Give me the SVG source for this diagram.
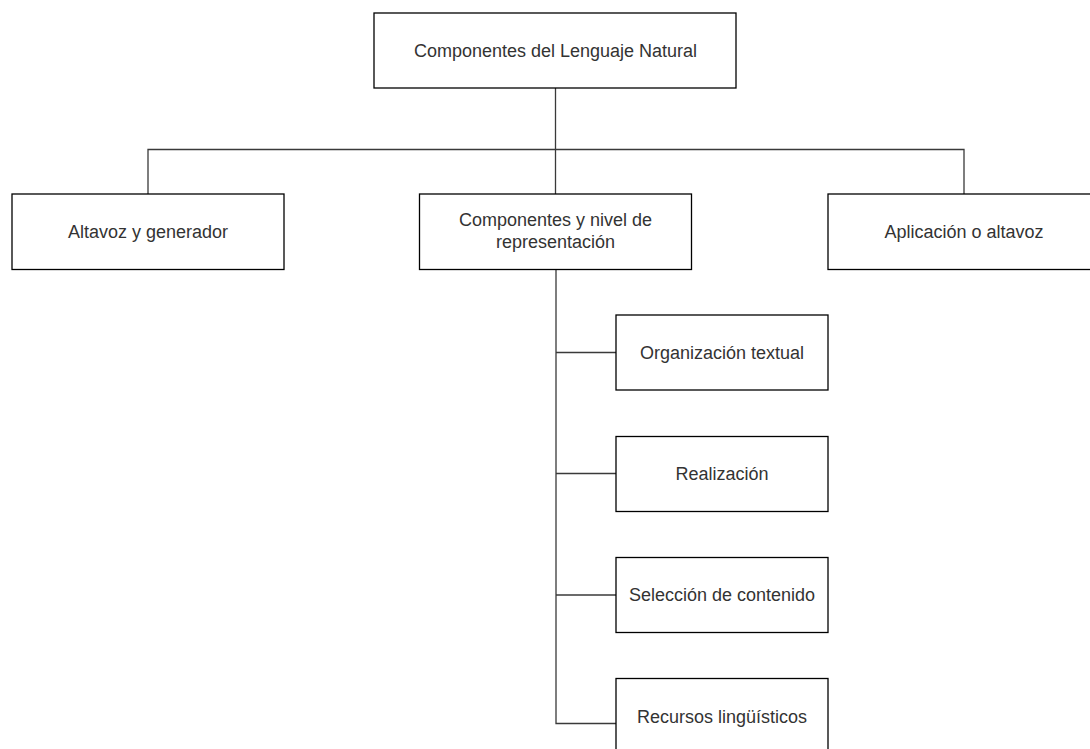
<svg xmlns="http://www.w3.org/2000/svg" width="1090" height="749" viewBox="0 0 1090 749">
<style>
.box{fill:#ffffff;stroke:#000000;stroke-width:1.3}
.lbl{font-family:"Liberation Sans",Arial,sans-serif;font-size:18px;fill:#333333;text-anchor:middle}
.conn{fill:none;stroke:#3a3a3a;stroke-width:1.3}
</style>
<rect width="1090" height="749" fill="#ffffff"/>
<g id="connectors">
<path class="conn" d="M555.5 88 V149.5"/>
<path class="conn" d="M148 194 V149.5 H964 V194"/>
<path class="conn" d="M555.5 149.5 V194"/>
<path class="conn" d="M556 269.5 V723.5 H616"/>
<path class="conn" d="M556 352.5 H616"/>
<path class="conn" d="M556 473.5 H616"/>
<path class="conn" d="M556 595 H616"/>
</g>
<g id="n-root">
<rect class="box" x="374" y="13" width="362" height="75"/>
<text class="lbl" x="555.5" y="56.5">Componentes del Lenguaje Natural</text>
</g>
<g id="n-altavoz-generador">
<rect class="box" x="12" y="194" width="272" height="75.5"/>
<text class="lbl" x="148" y="238">Altavoz y generador</text>
</g>
<g id="n-componentes-nivel">
<rect class="box" x="419.5" y="194" width="272" height="75.5"/>
<text class="lbl" x="555.5" y="226">Componentes y nivel de</text>
<text class="lbl" x="555.5" y="248">representación</text>
</g>
<g id="n-aplicacion">
<rect class="box" x="828" y="194" width="272" height="75.5"/>
<text class="lbl" x="964" y="238">Aplicación o altavoz</text>
</g>
<g id="n-organizacion">
<rect class="box" x="616" y="315" width="212" height="75"/>
<text class="lbl" x="722" y="359">Organización textual</text>
</g>
<g id="n-realizacion">
<rect class="box" x="616" y="436.5" width="212" height="75"/>
<text class="lbl" x="722" y="480">Realización</text>
</g>
<g id="n-seleccion">
<rect class="box" x="616" y="557.5" width="212" height="75"/>
<text class="lbl" x="722" y="601">Selección de contenido</text>
</g>
<g id="n-recursos">
<rect class="box" x="616" y="678.5" width="212" height="90"/>
<text class="lbl" x="722" y="722.5">Recursos lingüísticos</text>
</g>
</svg>
